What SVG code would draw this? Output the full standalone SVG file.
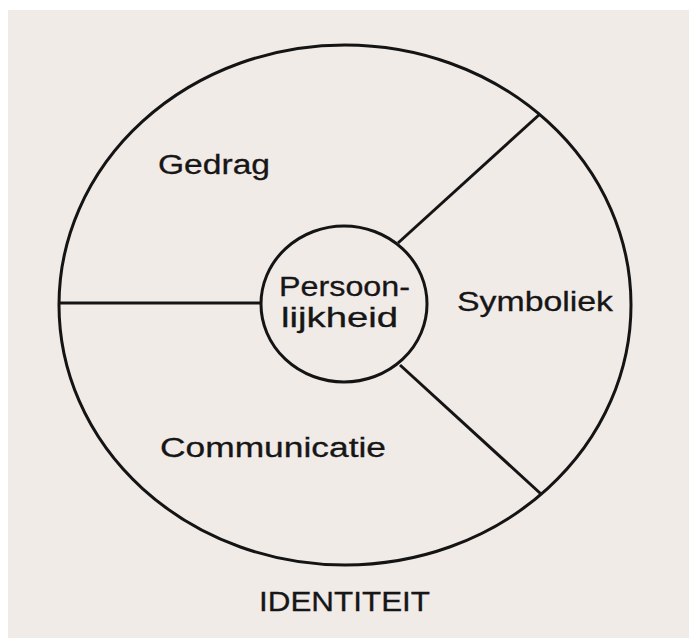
<svg xmlns="http://www.w3.org/2000/svg" width="689" height="638" viewBox="0 0 689 638">
  <style>
    .shape { fill: none; stroke: #141414; stroke-width: 3; }
    .lbl { font-family: "Liberation Sans", Arial, sans-serif; fill: #161616; font-size: 27px; stroke: #161616; stroke-width: 0.3; }
  </style>
  <rect x="0" y="0" width="689" height="638" fill="#ffffff"/>
  <rect x="8" y="10" width="681" height="628" fill="#f1ebe8"/>
  <g id="identiteit">
    <ellipse class="shape" cx="345" cy="305" rx="286" ry="260"/>
    <text class="lbl" x="259" y="611" textLength="171" lengthAdjust="spacingAndGlyphs">IDENTITEIT</text>
  </g>
  <g id="connectors">
    <line class="shape" x1="59" y1="303" x2="261" y2="303"/>
    <line class="shape" x1="398" y1="243" x2="540" y2="114"/>
    <line class="shape" x1="400" y1="365" x2="541" y2="494"/>
  </g>
  <g id="persoonlijkheid">
    <ellipse class="shape" cx="344" cy="304" rx="83" ry="78"/>
    <text class="lbl" x="279" y="296" textLength="131" lengthAdjust="spacingAndGlyphs">Persoon-</text>
    <text class="lbl" x="281" y="327" textLength="117" lengthAdjust="spacingAndGlyphs">lijkheid</text>
  </g>
  <g id="gedrag">
    <text class="lbl" x="158" y="174" textLength="112" lengthAdjust="spacingAndGlyphs">Gedrag</text>
  </g>
  <g id="symboliek">
    <text class="lbl" x="457" y="311" textLength="156" lengthAdjust="spacingAndGlyphs">Symboliek</text>
  </g>
  <g id="communicatie">
    <text class="lbl" x="160" y="457" textLength="226" lengthAdjust="spacingAndGlyphs">Communicatie</text>
  </g>
</svg>
